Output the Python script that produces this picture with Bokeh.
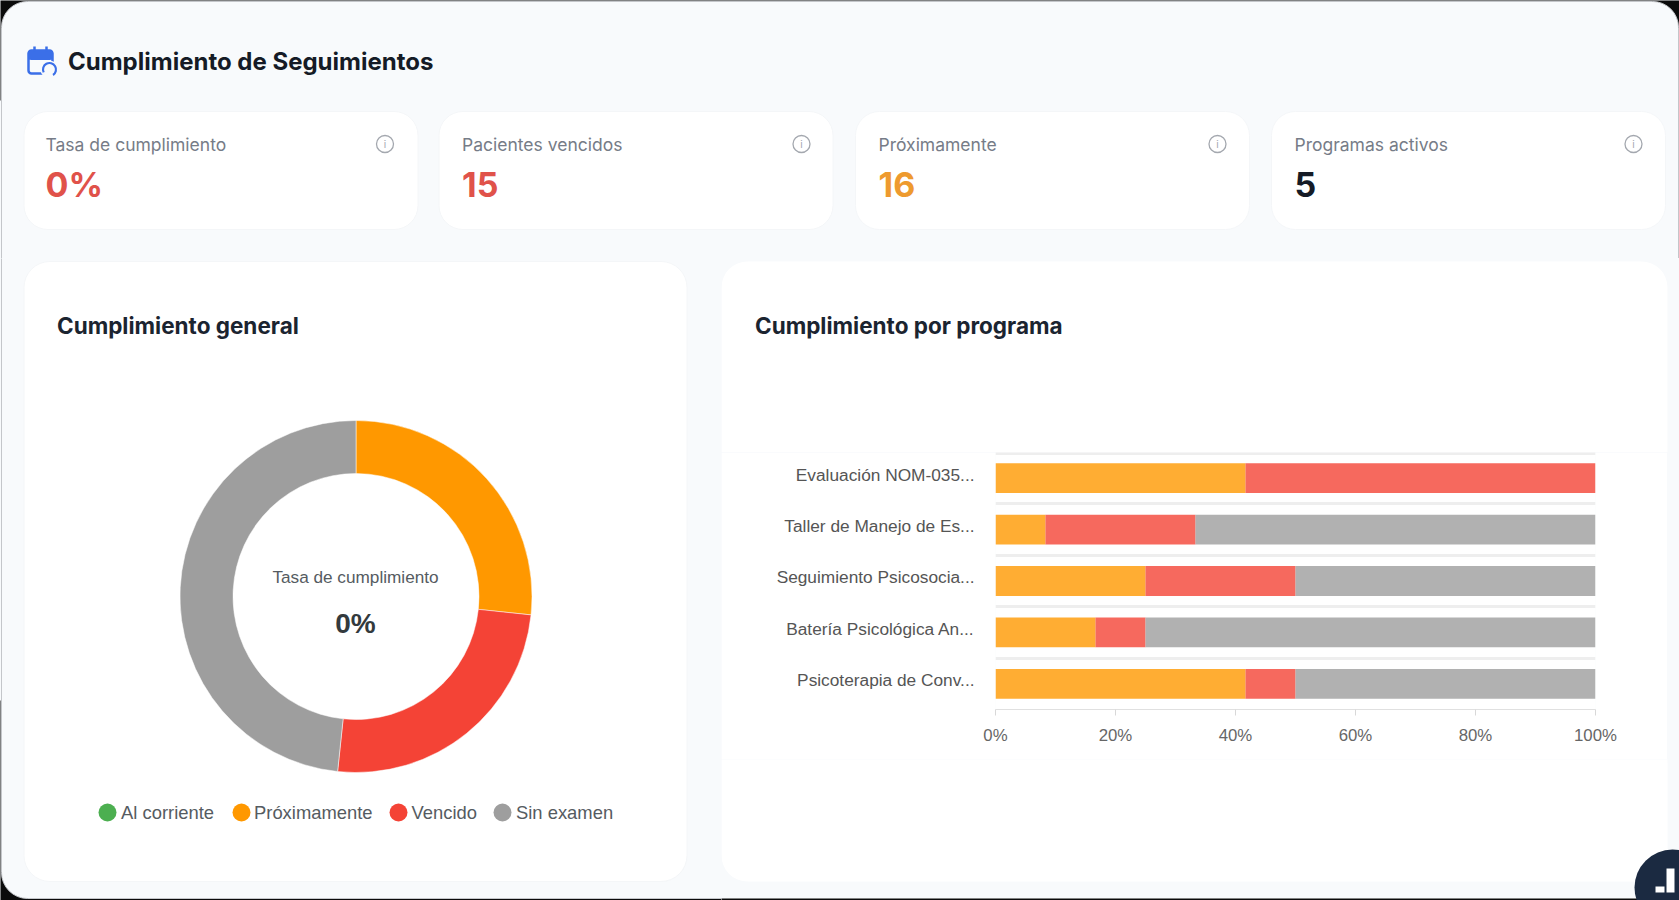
from math import pi
from bokeh.embed import file_html
from bokeh.resources import INLINE
from bokeh.plotting import figure
from bokeh.layouts import column, row
from bokeh.core.properties import value
from bokeh.models import (Range1d, FixedTicker, LinearAxis, PrintfTickFormatter, ColumnDataSource)

# ---------- data ----------
page_title = "Cumplimiento de Seguimientos"
kpi_labels = ["Tasa de cumplimiento", "Pacientes vencidos", "Próximamente", "Programas activos"]
kpi_values = ["0%", "15", "16", "5"]
kpi_colors = ["#E0524A", "#E0524A", "#EE9A2E", "#151B26"]

status_names = ["Al corriente", "Próximamente", "Vencido", "Sin examen"]
status_colors = ["#4CAF50", "#FF9800", "#F44336", "#9E9E9E"]
status_totals = [0, 16, 15, 29]

programs = ["Evaluación NOM-035...", "Taller de Manejo de Es...", "Seguimiento Psicosocia...",
            "Batería Psicológica An...", "Psicoterapia de Conv..."]
al_corriente = [0, 0, 0, 0, 0]
proximamente = [41.67, 8.33, 25, 16.67, 41.67]
vencido = [58.33, 25, 25, 8.33, 8.33]
sin_examen = [0, 66.67, 50, 75, 50]
pct_ticks = [0, 20, 40, 60, 80, 100]

PAGE = "#F8FAFC"
WHITE = "#FFFFFF"
EDGE = "#0B0B0B"
BLUE = "#3B6FE8"
UI = "Inter"
CHART = "Liberation Sans"


def txt(fig, x, y, s, size, color, font=UI, style="normal", align="left"):
    fig.text([x], [y], text=[s], text_font=value(font), text_font_size=f"{size}px",
             text_font_style=style, text_color=color, text_align=align, text_baseline="middle")


def panel(width, height, x0, x1, y0, y1):
    f = figure(width=width, height=height, output_backend="svg", toolbar_location=None,
               x_range=Range1d(x0, x1), y_range=Range1d(y1, y0), min_border=0,
               x_axis_type=None, y_axis_type=None, outline_line_color=None,
               background_fill_color=PAGE, border_fill_color=PAGE, frame_align=False)
    f.grid.visible = False
    return f


# ---------- header and KPI cards ----------
top = panel(1679, 258, 0, 1679, 0, 258)
# dark window corners seen outside the rounded screen edge
top.quad(left=[-100], right=[2000], top=[-100], bottom=[100], fill_color=EDGE, line_color=None)
top.quad(left=[1], right=[1678], top=[1], bottom=[500], fill_color=PAGE, line_color="#C4C6CA", border_radius=26)

# calendar icon
top.quad(left=[28], right=[52], top=[50], bottom=[73], fill_color=None, line_color=BLUE,
         line_width=2.5, border_radius=3)
top.quad(left=[28], right=[52], top=[50], bottom=[59], fill_color=BLUE, line_color=BLUE, border_radius=2)
top.segment(x0=[34, 46], y0=[46, 46], x1=[34, 46], y1=[51, 51], line_color=BLUE, line_width=2.5)
top.circle(x=[49], y=[69], radius=9, fill_color=PAGE, line_color=None)
top.arc(x=[49], y=[69], radius=6.5, start_angle=-1.0, end_angle=3.6, direction="anticlock",
        line_color=BLUE, line_width=2.2)
txt(top, 67.5, 61, page_title, 24, "#151B26", style="bold")

card_left = [23.5, 438.5, 855, 1271]
card_w = 394
label_x = [45, 461.5, 878, 1294]
icon_x = [384.5, 801, 1217, 1633]
top.quad(left=card_left, right=[c + card_w for c in card_left], top=[111] * 4, bottom=[229] * 4,
         fill_color=WHITE, line_color="#F4F6F8", border_radius=24)
for lx, ix, lab, val, col in zip(label_x, icon_x, kpi_labels, kpi_values, kpi_colors):
    txt(top, lx, 143.5, lab, 17.5, "#767C87")
    txt(top, lx, 184, val, 34, col, style="bold")
    top.scatter([ix], [143.5], size=17, marker="circle", fill_color=None,
                line_color="#A4A8AF", line_width=1.3)
    txt(top, ix, 143.5, "i", 10, "#A4A8AF", align="center")

# ---------- donut ----------
left = panel(721, 642, 0, 721, 258, 900)
left.quad(left=[-100], right=[2000], top=[700], bottom=[2000], fill_color=EDGE, line_color=None)
left.quad(left=[1], right=[900], top=[0], bottom=[898], fill_color=PAGE, line_color="#C4C6CA", border_radius=26)
left.quad(left=[23.5], right=[686.5], top=[261], bottom=[881], fill_color=WHITE, line_color="#F4F6F8",
          border_radius=26)
txt(left, 56.5, 324.5, "Cumplimiento general", 22.5, "#1B2430", style="bold")

total = sum(status_totals)
starts, ends, cols, cum = [], [], [], 0
for v, c in zip(status_totals, status_colors):
    if v > 0:
        starts.append(pi / 2 - 2 * pi * cum / total)
        ends.append(pi / 2 - 2 * pi * (cum + v) / total)
        cols.append(c)
    cum += v
left.annular_wedge(x=[355.5] * len(cols), y=[596] * len(cols), inner_radius=123, outer_radius=176,
                   start_angle=starts, end_angle=ends, direction="clock",
                   fill_color=cols, line_color=WHITE, line_width=0.5)
txt(left, 355, 576, "Tasa de cumplimiento", 17.2, "#555B61", font=CHART, align="center")
txt(left, 355, 623, "0%", 28, "#333A3D", font=CHART, style="bold", align="center")

for lx, tx, name, c in zip([107, 241, 398, 502], [120.5, 253.5, 411, 515.5], status_names, status_colors):
    left.scatter([lx], [812], size=18, marker="circle", fill_color=c, line_color=None)
    txt(left, tx, 812, name, 18.4, "#555B61", font=CHART)

# ---------- right card: header ----------
rhead = panel(958, 194, 721, 1679, 258, 452)
rhead.quad(left=[721], right=[1667], top=[261], bottom=[900], fill_color=WHITE, line_color=None, border_radius=26)
txt(rhead, 754.5, 324.5, "Cumplimiento por programa", 22.5, "#1B2430", style="bold")

# ---------- right card: stacked bars ----------
n = len(programs)
band_centres = [i + 0.5 for i in range(n)]
right = figure(width=946, height=307, output_backend="svg", toolbar_location=None,
               x_range=Range1d(0, 100), y_range=Range1d(n, 0),
               min_border_left=274, min_border_right=72, min_border_top=0, min_border_bottom=50,
               frame_width=600, frame_height=257, frame_align=False,
               background_fill_color=WHITE, border_fill_color=WHITE, outline_line_color=None)

src = ColumnDataSource(dict(y=band_centres, al=al_corriente, prox=proximamente, ven=vencido, sin=sin_examen))
right.hbar_stack(["al", "prox", "ven", "sin"], y="y", height=0.58, source=src,
                 color=status_colors, fill_alpha=0.8, line_alpha=0)

right.xgrid.visible = False
right.ygrid.ticker = FixedTicker(ticks=list(range(n + 1)))
right.ygrid.grid_line_color = "#EEEEEE"
right.ygrid.grid_line_width = 3
right.hspan(y=[0.02], line_color="#EEEEEE", line_width=3)

right.xaxis.ticker = FixedTicker(ticks=pct_ticks)
right.xaxis.formatter = PrintfTickFormatter(format="%d%%")
right.xaxis.axis_line_color = "#E0E0E0"
right.xaxis.major_tick_line_color = "#D8D8D8"
right.xaxis.major_tick_in = 0
right.xaxis.major_tick_out = 6
right.xaxis.minor_tick_line_color = None
right.xaxis.major_label_text_font = CHART
right.xaxis.major_label_text_font_size = "16.8px"
right.xaxis.major_label_text_color = "#666666"
right.xaxis.major_label_standoff = 10

# the labels sit a little above the centre of their band
right.yaxis.visible = False
right.extra_y_ranges["labels"] = Range1d(n + 0.07, 0.07)
lab_axis = LinearAxis(y_range_name="labels", ticker=FixedTicker(ticks=band_centres),
                      major_label_overrides=dict(zip(band_centres, programs)))
lab_axis.axis_line_color = None
lab_axis.major_tick_line_color = None
lab_axis.minor_tick_line_color = None
lab_axis.major_label_text_font = CHART
lab_axis.major_label_text_font_size = "17.3px"
lab_axis.major_label_text_color = "#555555"
lab_axis.major_label_standoff = 15
right.add_layout(lab_axis, "left")

# page-coloured strip to the right of the card
strip = panel(12, 307, 0, 12, 0, 307)
strip.quad(left=[-5], right=[20], top=[-5], bottom=[320], fill_color=PAGE, line_color=None)

# ---------- right card: foot with the floating widget ----------
rfoot = panel(958, 141, 721, 1679, 759, 900)
rfoot.quad(left=[-100], right=[2000], top=[898], bottom=[2000], fill_color=EDGE, line_color=None)
rfoot.quad(left=[721], right=[1667], top=[0], bottom=[881], fill_color=WHITE, line_color=None, border_radius=26)
rfoot.circle(x=[1672], y=[887], radius=38, fill_color="#1B2A41", line_color=None)
rfoot.quad(left=[1666, 1655], right=[1674, 1664], top=[868, 886], bottom=[892, 892],
           fill_color=WHITE, line_color=None)

page = row(left, column(rhead, row(right, strip, spacing=0), rfoot, spacing=0), spacing=0)
page = column(top, page, spacing=0)
page.styles = {"background-color": PAGE}

html = file_html(page, INLINE)
html = html.replace("<body>", f'<body style="background:{PAGE}">')
open("out.html", "w").write(html)
